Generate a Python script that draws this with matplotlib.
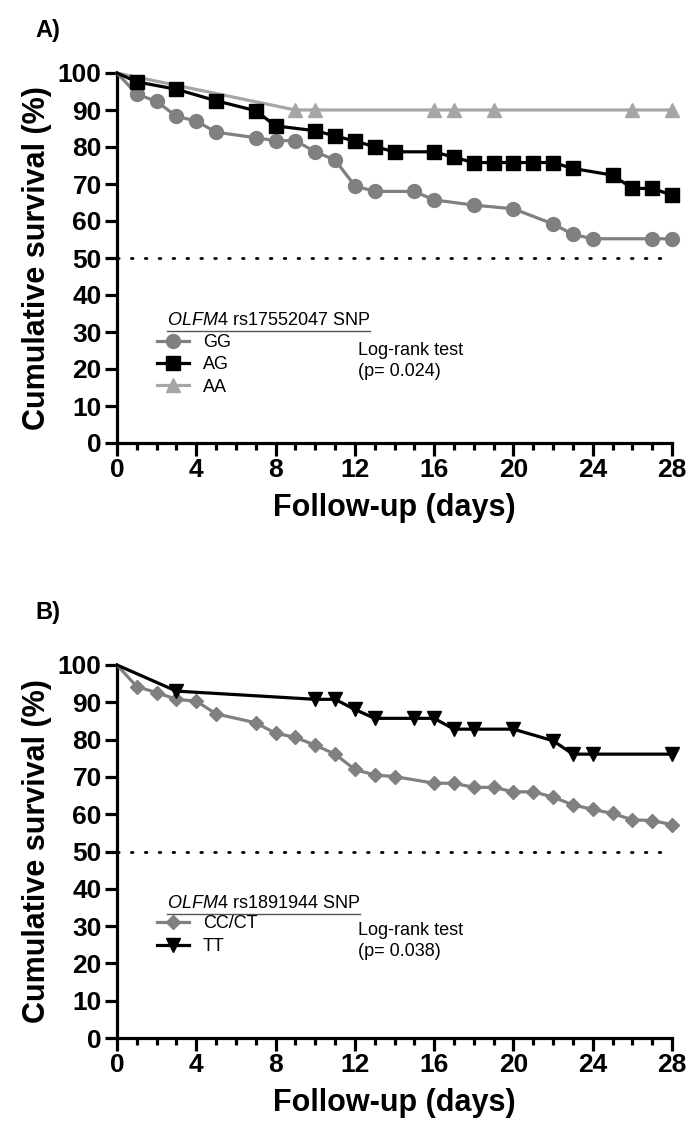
import matplotlib
matplotlib.use("Agg")
import matplotlib.pyplot as plt
from matplotlib.lines import Line2D

plt.rcParams['font.family'] = ['Liberation Sans', 'DejaVu Sans']
plt.rcParams['mathtext.fontset'] = 'custom'
plt.rcParams['mathtext.it'] = 'Liberation Sans:italic'
plt.rcParams['mathtext.rm'] = 'Liberation Sans'

# panel A - OLFM4 rs17552047
gg_days = [0, 1, 2, 3, 4, 5, 7, 8, 9, 10, 11, 12, 13, 15, 16, 18, 20, 22, 23, 24, 27, 28]
gg_surv = [100, 94.3, 92.3, 88.3, 87, 84, 82.5, 81.7, 81.7, 78.7, 76.5, 69.5, 68, 68, 65.7, 64.3, 63.3, 59.2, 56.4, 55.2, 55.2, 55.2]
ag_days = [0, 1, 3, 5, 7, 8, 10, 11, 12, 13, 14, 16, 17, 18, 19, 20, 21, 22, 23, 25, 26, 27, 28]
ag_surv = [100, 97.6, 95.6, 92.5, 89.8, 85.7, 84.4, 83, 81.6, 80.1, 78.7, 78.7, 77.2, 75.8, 75.8, 75.8, 75.8, 75.8, 74.2, 72.4, 68.8, 68.8, 67]
aa_days = [0, 9, 10, 16, 17, 19, 26, 28]
aa_surv = [100, 90, 90, 90, 90, 90, 90, 90]

# panel B - OLFM4 rs1891944
cc_days = [0, 1, 2, 3, 4, 5, 7, 8, 9, 10, 11, 12, 13, 14, 16, 17, 18, 19, 20, 21, 22, 23, 24, 25, 26, 27, 28]
cc_surv = [100, 94.2, 92.6, 90.8, 90.3, 86.9, 84.5, 81.7, 80.6, 78.5, 76.1, 72, 70.5, 70.1, 68.3, 68.3, 67.2, 67.2, 66, 66, 64.6, 62.5, 61.3, 60.2, 58.5, 58.3, 57.2]
tt_days = [0, 3, 10, 11, 12, 13, 15, 16, 17, 18, 20, 22, 23, 24, 28]
tt_surv = [100, 93, 90.8, 90.8, 88.1, 85.7, 85.7, 85.7, 82.8, 82.8, 82.8, 79.7, 76.1, 76.1, 76.1]

x_ticks = [0, 4, 8, 12, 16, 20, 24, 28]
y_ticks = [0, 10, 20, 30, 40, 50, 60, 70, 80, 90, 100]

GRAY = '#808080'
LIGHT = '#a6a6a6'

fig = plt.figure(figsize=(6.89, 11.28), dpi=100)
axA = fig.add_axes([117/689, 1-443/1128, 555/689, 370/1128])
axB = fig.add_axes([117/689, 1-1038/1128, 555/689, 373/1128])


def style_axis(ax):
    ax.set_xlim(0, 28)
    ax.set_ylim(0, 100)
    ax.set_xticks(x_ticks)
    ax.set_xticks(range(0, 29), minor=True)
    ax.set_yticks(y_ticks)
    for s in ['top', 'right']:
        ax.spines[s].set_visible(False)
    for s in ['left', 'bottom']:
        ax.spines[s].set_linewidth(2.3)
    ax.tick_params(which='major', length=9, width=2.3, labelsize=19, pad=2)
    ax.tick_params(which='minor', length=5, width=2.3)
    for lab in ax.get_xticklabels() + ax.get_yticklabels():
        lab.set_fontweight('bold')
    ax.set_xlabel('Follow-up (days)', fontsize=22, fontweight='bold', labelpad=8)
    ax.set_ylabel('Cumulative survival (%)', fontsize=22, fontweight='bold', labelpad=4)
    ax.axhline(50, color='black', lw=2, ls=(0, (0.6, 4.4)), dash_capstyle='round')


style_axis(axA)
style_axis(axB)

axA.plot(gg_days, gg_surv, color=GRAY, lw=2.3, marker='o', ms=10, markevery=list(range(1, len(gg_days))), clip_on=False, zorder=3)
axA.plot(aa_days, aa_surv, color=LIGHT, lw=2.3, marker='^', ms=10, markevery=list(range(1, len(aa_days))), clip_on=False, zorder=3)
axA.plot(ag_days, ag_surv, color='black', lw=2.3, marker='s', ms=9.5, markevery=list(range(1, len(ag_days))), clip_on=False, zorder=4)

axB.plot(cc_days, cc_surv, color=GRAY, lw=2.3, marker='D', ms=7.5, markevery=list(range(1, len(cc_days))), clip_on=False, zorder=3)
axB.plot(tt_days, tt_surv, color='black', lw=2.3, marker='v', ms=10, markevery=list(range(1, len(tt_days))), clip_on=False, zorder=4)

hA = [Line2D([], [], color=GRAY, lw=2.3, marker='o', ms=10),
      Line2D([], [], color='black', lw=2.3, marker='s', ms=9.5),
      Line2D([], [], color=LIGHT, lw=2.3, marker='^', ms=10)]
axA.legend(hA, ['GG', 'AG', 'AA'], loc='upper left', bbox_to_anchor=(0.072, 0.295), frameon=False,
           fontsize=13, handlelength=1.8, handletextpad=0.75, labelspacing=0.3, borderpad=0, borderaxespad=0)
hB = [Line2D([], [], color=GRAY, lw=2.3, marker='D', ms=7.5),
      Line2D([], [], color='black', lw=2.3, marker='v', ms=10)]
axB.legend(hB, ['CC/CT', 'TT'], loc='upper left', bbox_to_anchor=(0.072, 0.33), frameon=False,
           fontsize=13, handlelength=1.8, handletextpad=0.75, labelspacing=0.35, borderpad=0, borderaxespad=0)

axA.text(0.434, 0.272, 'Log-rank test\n(p= 0.024)', transform=axA.transAxes, fontsize=13, va='top', linespacing=1.3)
axB.text(0.434, 0.31, 'Log-rank test\n(p= 0.038)', transform=axB.transAxes, fontsize=13, va='top', linespacing=1.3)

tA = axA.text(0.09, 0.33, r'$\mathit{OLFM4}$ rs17552047 SNP', transform=axA.transAxes, fontsize=13, va='center')
tB = axB.text(0.09, 0.36, r'$\mathit{OLFM4}$ rs1891944 SNP', transform=axB.transAxes, fontsize=13, va='center')

fig.text(35/689, 1-30/1128, 'A)', fontsize=17, fontweight='bold', va='center')
fig.text(35/689, 1-612/1128, 'B)', fontsize=17, fontweight='bold', va='center')

# underline the legend titles
fig.canvas.draw()
r = fig.canvas.get_renderer()
for ax, t in [(axA, tA), (axB, tB)]:
    bb = t.get_window_extent(r).transformed(ax.transAxes.inverted())
    ax.plot([bb.x0, bb.x1], [bb.y0 - 0.004, bb.y0 - 0.004], transform=ax.transAxes, color='#555555', lw=1, clip_on=False)

fig.savefig('out.png', dpi=100)
